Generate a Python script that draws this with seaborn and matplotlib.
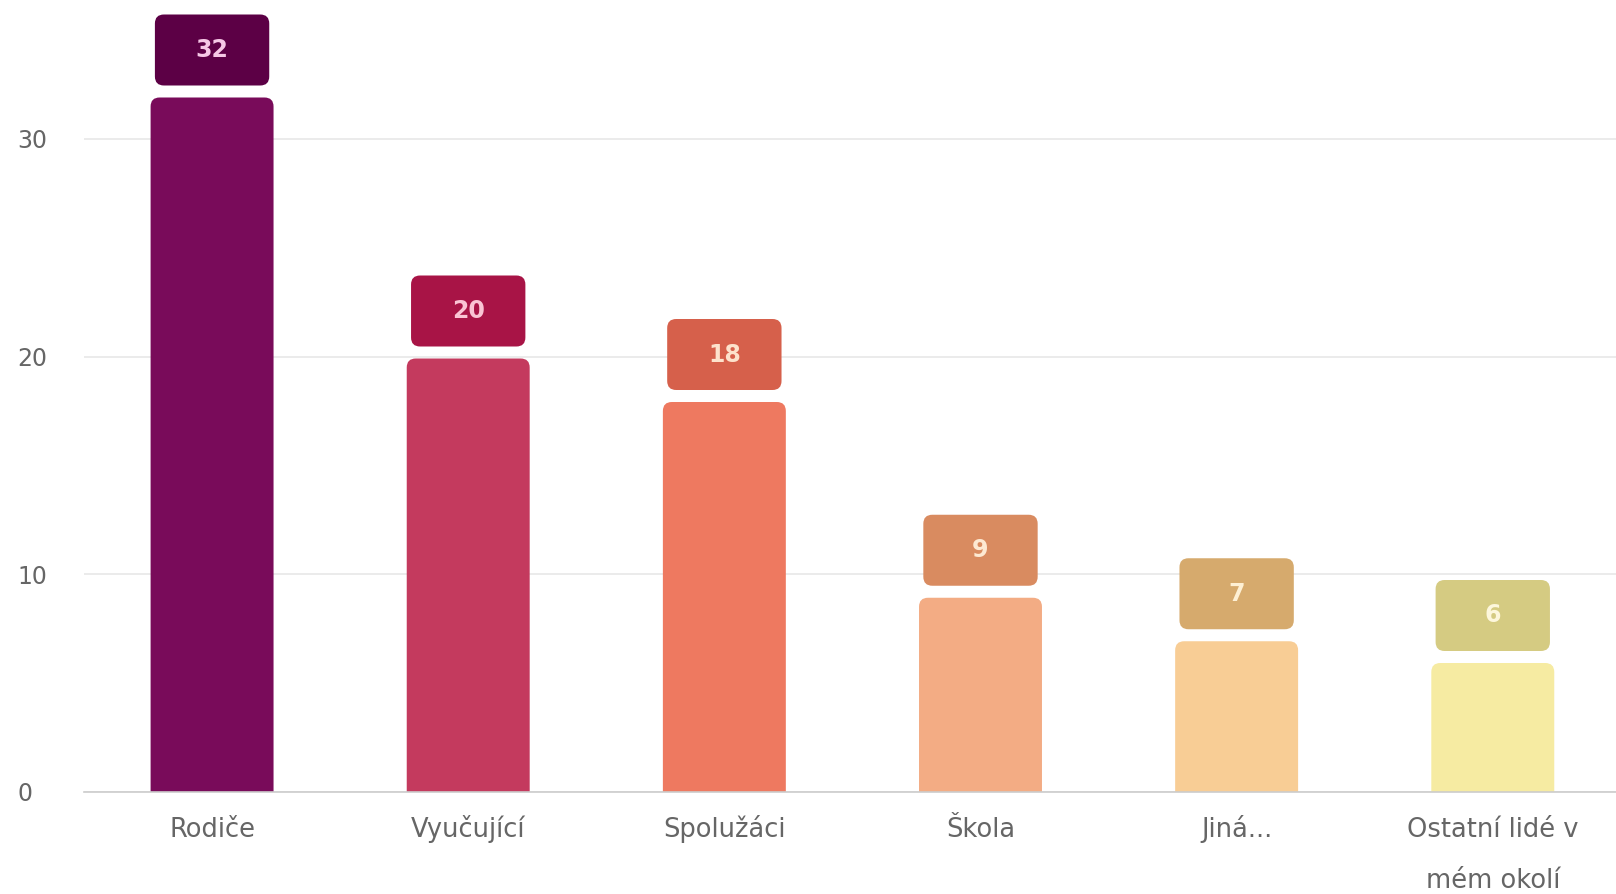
import matplotlib
matplotlib.use("Agg")
import matplotlib.pyplot as plt
import seaborn as sns
import pandas as pd
from matplotlib.patches import FancyBboxPatch
from matplotlib.transforms import ScaledTranslation

categories = ["Rodiče", "Vyučující", "Spolužáci", "Škola", "Jiná...", "Ostatní lidé v\nmém okolí"]
values = [32, 20, 18, 9, 7, 6]
bar_colors = ["#790B5A", "#C43A5E", "#EE7960", "#F3AC84", "#F8CD95", "#F6EBA2"]
box_colors = ["#5C0045", "#A81446", "#D6604B", "#D98B60", "#D6AA6D", "#D5CB82"]
text_colors = ["#F6C8E6", "#FAC4D4", "#FDE2CC", "#FDE9D2", "#FEF0D4", "#FDF7DC"]
yticks = [0, 10, 20, 30]

sns.set_theme(style="white")
plt.rcParams["font.family"] = ["DejaVu Sans"]

W, H, DPI = 1616, 894, 100
fig = plt.figure(figsize=(W / DPI, H / DPI), dpi=DPI)
ax_left, ax_bottom = 84 / W, (H - 791.5) / H
ax_w = 1.0 - ax_left + 0.003
ax = fig.add_axes([ax_left, ax_bottom, ax_w, 1.0 - ax_bottom])

df = pd.DataFrame({"cat": categories, "val": values})
sns.barplot(data=df, x="cat", y="val", hue="cat", palette=bar_colors,
            width=0.48, legend=False, ax=ax, saturation=1)

ymax = 791.5 / 21.75
ax.set_ylim(0, ymax)
ax.set_xlim(-0.5, 5.5)

px_x = ax_w * W / 6.0
px_y = 21.75
aspect = px_x / px_y

r_px = 9
for i, p in enumerate(list(ax.patches)):
    x0, w, h = p.get_x(), p.get_width(), p.get_height()
    p.set_visible(False)
    rx = r_px / px_x
    fb = FancyBboxPatch((x0, -r_px / px_y), w, h + r_px / px_y - 2 / px_y,
                        boxstyle=f"round,pad=0,rounding_size={rx}",
                        mutation_aspect=aspect, facecolor=bar_colors[i],
                        edgecolor="none", zorder=2)
    ax.add_patch(fb)
    bw = w * 0.93
    bx = x0 + (w - bw) / 2
    by = h + 10 / px_y
    bh = 71 / px_y
    lb = FancyBboxPatch((bx, by), bw, bh,
                        boxstyle=f"round,pad=0,rounding_size={rx}",
                        mutation_aspect=aspect, facecolor=box_colors[i],
                        edgecolor="none", zorder=3, clip_on=False)
    ax.add_patch(lb)
    ax.text(x0 + w / 2, by + bh / 2, str(values[i]), ha="center", va="center",
            fontsize=17, fontweight="bold", color=text_colors[i], zorder=4)

ax.set_yticks(yticks)
ax.set_yticklabels([str(t) for t in yticks], ha="left")
ax.tick_params(axis="y", length=0, pad=48, labelsize=17, labelcolor="#666666")
ax.tick_params(axis="x", length=0, pad=33, labelsize=18.5, labelcolor="#666666")
for lbl in ax.get_xticklabels():
    lbl.set_linespacing(2.24)
    lbl.set_verticalalignment("baseline")
    nlines = lbl.get_text().count("\n")
    if nlines:
        lbl.set_transform(lbl.get_transform() +
                          ScaledTranslation(0, -50.5 * nlines / DPI, fig.dpi_scale_trans))

ax.grid(axis="y", color="#E8E8E8", linewidth=1.2, zorder=0)
ax.set_axisbelow(True)
for s in ["top", "right", "left"]:
    ax.spines[s].set_visible(False)
ax.spines["bottom"].set_color("#CCCCCC")
ax.spines["bottom"].set_linewidth(1.2)
ax.set_xlabel("")
ax.set_ylabel("")

fig.savefig("out.png", dpi=DPI)
